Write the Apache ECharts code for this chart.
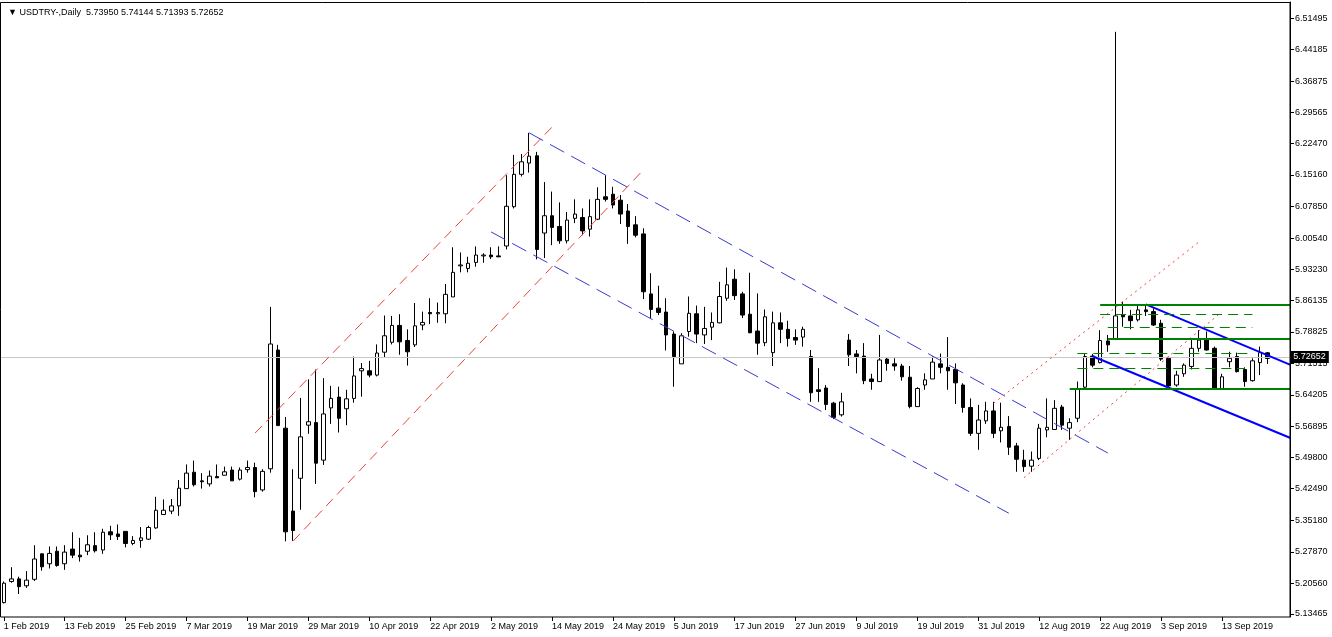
<!DOCTYPE html>
<html>
<head>
<meta charset="utf-8">
<script src="https://cdn.jsdelivr.net/npm/echarts@6/dist/echarts.min.js"></script>
<style>
html,body{margin:0;padding:0;background:#fff;}
#chart{width:1332px;height:637px;}
</style>
</head>
<body>
<div id="chart"></div>
<script>
// ---- Data (USDTRY daily) ----
const open = [5.161,5.210,5.216,5.200,5.215,5.274,5.251,5.280,5.251,5.285,5.271,5.280,5.293,5.283,5.325,5.320,5.326,5.298,5.305,5.308,
5.334,5.365,5.373,5.385,5.425,5.463,5.443,5.436,5.453,5.456,5.468,5.447,5.469,5.474,5.422,5.471,5.746,5.565,5.373,5.449,
5.572,5.578,5.491,5.612,5.637,5.610,5.634,5.698,5.698,5.688,5.741,5.764,5.803,5.768,5.758,5.804,5.833,5.830,5.830,5.869,
5.941,5.935,5.949,5.964,5.966,5.964,5.987,6.078,6.153,6.179,6.196,6.017,6.057,6.032,5.999,6.051,6.053,6.026,6.049,6.101,
6.107,6.093,6.068,6.036,6.015,5.876,5.843,5.834,5.783,5.714,5.789,5.830,5.781,5.799,5.809,5.866,5.910,5.876,5.829,5.790,
5.763,5.740,5.809,5.794,5.775,5.776,5.731,5.654,5.658,5.623,5.596,5.769,5.737,5.732,5.679,5.673,5.725,5.714,5.709,5.683,
5.615,5.665,5.679,5.714,5.706,5.701,5.665,5.613,5.553,5.582,5.605,5.559,5.569,5.524,5.491,5.477,5.495,5.561,5.562,5.614,
5.565,5.588,5.660,5.732,5.717,5.767,5.771,5.827,5.825,5.816,5.839,5.835,5.808,5.727,5.665,5.691,5.708,5.750,5.771,5.750,
5.657,5.719,5.731,5.701,5.675,5.717,5.73950];
const close = [5.206,5.216,5.198,5.213,5.262,5.244,5.275,5.247,5.278,5.271,5.267,5.295,5.281,5.324,5.318,5.314,5.298,5.305,5.311,5.335,
5.375,5.375,5.385,5.426,5.461,5.434,5.441,5.454,5.450,5.464,5.443,5.468,5.474,5.418,5.465,5.760,5.571,5.325,5.328,5.545,
5.580,5.484,5.598,5.634,5.588,5.633,5.686,5.703,5.688,5.739,5.779,5.803,5.765,5.742,5.802,5.810,5.830,5.833,5.875,5.926,
5.943,5.947,5.966,5.966,5.962,5.962,6.079,6.153,6.182,6.195,5.979,6.057,6.030,5.999,6.047,6.061,6.022,6.055,6.095,6.095,
6.082,6.061,6.032,6.012,5.881,5.840,5.833,5.781,5.731,5.779,5.831,5.783,5.796,5.810,5.870,5.897,5.872,5.827,5.786,5.762,
5.823,5.809,5.794,5.773,5.769,5.794,5.647,5.650,5.620,5.590,5.626,5.735,5.731,5.675,5.673,5.723,5.715,5.709,5.684,5.615,
5.657,5.677,5.718,5.706,5.698,5.670,5.613,5.553,5.584,5.605,5.553,5.567,5.521,5.493,5.476,5.491,5.565,5.567,5.611,5.572,
5.578,5.657,5.731,5.711,5.768,5.758,5.825,5.823,5.814,5.839,5.835,5.804,5.725,5.663,5.688,5.711,5.750,5.769,5.746,5.657,
5.684,5.727,5.696,5.673,5.721,5.740,5.72652];
const low = [5.159,5.207,5.181,5.195,5.211,5.235,5.240,5.244,5.237,5.264,5.256,5.271,5.277,5.274,5.306,5.306,5.289,5.294,5.288,5.306,
5.332,5.365,5.366,5.362,5.425,5.430,5.425,5.430,5.450,5.456,5.443,5.444,5.462,5.405,5.418,5.462,5.571,5.303,5.304,5.376,
5.552,5.436,5.480,5.575,5.555,5.572,5.624,5.638,5.683,5.685,5.729,5.759,5.735,5.710,5.753,5.792,5.806,5.809,5.808,5.869,
5.926,5.926,5.939,5.948,5.957,5.961,5.979,6.074,6.148,6.157,5.956,5.959,5.989,5.992,5.993,6.040,6.012,6.009,6.047,6.090,
6.074,6.038,5.992,6.007,5.864,5.820,5.827,5.745,5.661,5.714,5.777,5.762,5.760,5.769,5.808,5.860,5.862,5.820,5.785,5.735,
5.755,5.709,5.762,5.754,5.758,5.754,5.626,5.626,5.607,5.586,5.592,5.709,5.692,5.667,5.654,5.673,5.698,5.698,5.675,5.611,
5.615,5.654,5.679,5.692,5.654,5.621,5.601,5.547,5.515,5.575,5.542,5.532,5.503,5.464,5.464,5.464,5.491,5.544,5.561,5.561,
5.538,5.579,5.657,5.706,5.715,5.742,5.769,5.800,5.794,5.812,5.825,5.802,5.721,5.654,5.661,5.684,5.701,5.742,5.745,5.657,
5.657,5.706,5.694,5.661,5.673,5.688,5.71393];
const high = [5.210,5.243,5.221,5.234,5.294,5.275,5.291,5.291,5.294,5.324,5.311,5.317,5.324,5.332,5.339,5.342,5.326,5.315,5.336,5.339,
5.406,5.400,5.401,5.445,5.481,5.490,5.461,5.467,5.481,5.476,5.476,5.474,5.490,5.485,5.470,5.846,5.758,5.591,5.470,5.635,
5.678,5.701,5.681,5.663,5.661,5.654,5.731,5.716,5.721,5.759,5.826,5.825,5.829,5.794,5.855,5.835,5.866,5.856,5.899,5.984,
5.972,5.962,5.986,5.970,5.984,5.986,6.151,6.198,6.200,6.249,6.205,6.135,6.113,6.088,6.066,6.095,6.074,6.095,6.123,6.151,
6.124,6.105,6.084,6.056,6.028,5.924,5.895,5.866,5.789,5.785,5.870,5.849,5.846,5.833,5.904,5.937,5.933,5.881,5.925,5.877,
5.840,5.835,5.833,5.814,5.794,5.800,5.746,5.704,5.665,5.626,5.647,5.783,5.746,5.762,5.691,5.781,5.729,5.727,5.714,5.709,
5.660,5.692,5.731,5.738,5.776,5.715,5.669,5.634,5.619,5.626,5.626,5.624,5.593,5.531,5.515,5.511,5.575,5.634,5.630,5.619,
5.588,5.673,5.738,5.737,5.792,5.781,6.483,5.858,5.839,5.848,5.848,5.843,5.816,5.731,5.698,5.715,5.773,5.792,5.789,5.754,
5.691,5.742,5.740,5.706,5.727,5.754,5.74144];

const yTickValues = [6.51495,6.44185,6.36875,6.29565,6.22470,6.15160,6.07850,6.00540,5.93230,5.86135,
5.78825,5.71515,5.64205,5.56895,5.49800,5.42490,5.35180,5.27870,5.20560,5.13465];
const lastPrice = 5.72652;
const titleText = '\u25BC USDTRY-,Daily  5.73950 5.74144 5.71393 5.72652';

// Trend lines drawn on the chart: [startIndex, startPrice, endIndex, endPrice]
const redDashed   = [[33,5.5536,72,6.2623],[38,5.3035,84,6.1632]];
const blueDashed  = [[69,6.2491,145,5.5075],[64,6.0196,132,5.3681]];
const redDotted   = [[130,5.6227,157,5.9967],[134,5.4504,160,5.8348]];
const blueSolid   = [[150,5.8517,169,5.7116],[143,5.7316,169,5.5423]];
const greenSolid  = [[144,5.8503,169,5.8503],[145,5.7732,169,5.7732],[140,5.6574,169,5.6574]];
const greenDashed = [[144,5.8283,164,5.8283],[145,5.7994,164,5.7994],[141,5.7392,164,5.7392],[141,5.7044,163,5.7044]];

// ---- Build ----
const MONTHS = ['Jan','Feb','Mar','Apr','May','Jun','Jul','Aug','Sep','Oct','Nov','Dec'];
const dates = [];
let d = new Date(Date.UTC(2019,1,1));
while (dates.length < open.length) {
  const wd = d.getUTCDay();
  if (wd !== 0 && wd !== 6) dates.push(d.getUTCDate() + ' ' + MONTHS[d.getUTCMonth()] + ' ' + d.getUTCFullYear());
  d = new Date(d.getTime() + 86400000);
}
const categories = dates.concat([' ', '  ', '   ']);
const candles = open.map((o, i) => [o, close[i], low[i], high[i]]);

function seg(arr, style) {
  return arr.map(s => [{coord: [s[0], s[1]], lineStyle: style}, {coord: [s[2], s[3]]}]);
}
const markData = [].concat(
  [{yAxis: lastPrice, lineStyle: {color: '#c8c8c8', width: 1, type: 'solid'},
    label: {show: true, position: 'end', distance: -4, formatter: lastPrice.toFixed(5),
      backgroundColor: '#000', color: '#fff', fontSize: 9, fontFamily: 'Liberation Sans', padding: [2, 3, 1, 3]}}],
  seg(redDashed,   {color: '#e8453c', width: 1, type: [10, 6]}),
  seg(blueDashed,  {color: '#3a3ad0', width: 1, type: [16, 8]}),
  seg(redDotted,   {color: '#e8453c', width: 1, type: [2, 4]}),
  seg(blueSolid,   {color: '#0000ff', width: 2, type: 'solid'}),
  seg(greenSolid,  {color: '#008000', width: 2, type: 'solid'}),
  seg(greenDashed, {color: '#008000', width: 1, type: [10, 6]})
);

const labelEvery = (idx) => idx % 8 === 0 && idx <= 160;

const chart = echarts.init(document.getElementById('chart'), null, {renderer: 'canvas'});
chart.setOption({
  animation: false,
  backgroundColor: '#fff',
  title: {text: titleText, left: 3, top: 3,
    textStyle: {fontSize: 9, fontWeight: 'normal', color: '#000', fontFamily: 'Liberation Sans'}},
  grid: {left: -1.1, right: 37.7, top: 2, bottom: 20, containLabel: false},
  xAxis: {
    type: 'category', data: categories, boundaryGap: true,
    axisLine: {show: false},
    axisTick: {show: true, alignWithLabel: true, interval: labelEvery, length: 4, lineStyle: {color: '#000'}},
    axisLabel: {interval: labelEvery, align: 'left', margin: 5, fontSize: 9, color: '#000', fontFamily: 'Liberation Sans'},
    splitLine: {show: false}
  },
  yAxis: {
    type: 'value', position: 'right', offset: -4.3, min: 5.1277, max: 6.5521, scale: true,
    axisLine: {show: true, lineStyle: {color: '#000'}},
    axisTick: {show: true, length: 4, customValues: yTickValues, lineStyle: {color: '#000'}},
    axisLabel: {customValues: yTickValues, formatter: v => v.toFixed(5), margin: 5, fontSize: 9, color: '#000', fontFamily: 'Liberation Sans'},
    splitLine: {show: false}
  },
  graphic: [{type: 'rect', silent: true, z: 100,
    shape: {x: 0.5, y: 2.5, width: 1289.5, height: 614.5},
    style: {fill: null, stroke: '#000', lineWidth: 1}}],
  series: [{
    type: 'candlestick', data: candles, barWidth: 4,
    itemStyle: {color: '#fff', color0: '#000', borderColor: '#000', borderColor0: '#000', borderWidth: 1},
    markLine: {silent: true, symbol: ['none', 'none'], animation: false, label: {show: false}, data: markData}
  }]
});
</script>
</body>
</html>
